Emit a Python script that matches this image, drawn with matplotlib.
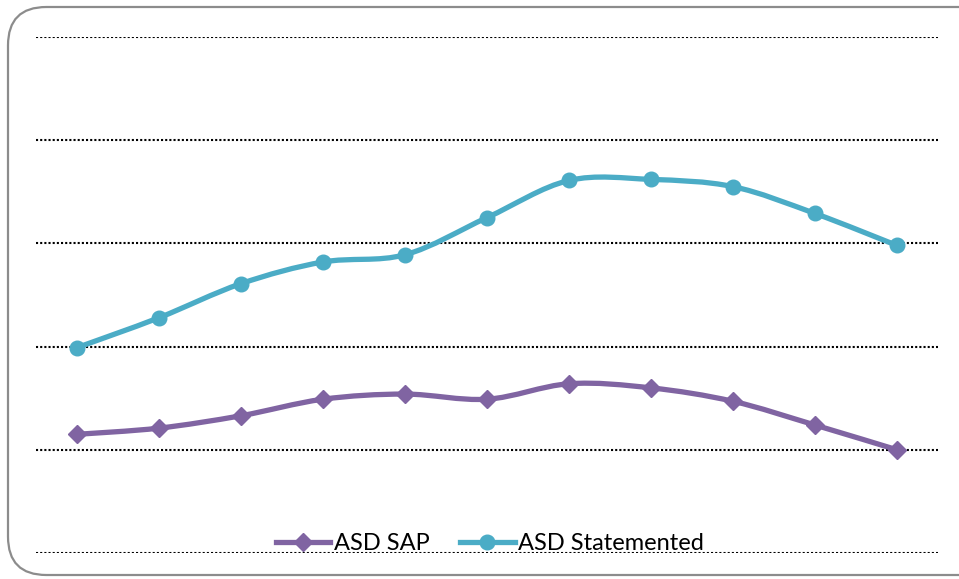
import matplotlib.pyplot as plt
import numpy as np
from matplotlib.path import Path
from matplotlib.patches import PathPatch, FancyBboxPatch
from matplotlib.lines import Line2D

# values (gridlines = 0..5, no labels shown)
periods = list(range(11))
asd_sap = [1.15, 1.21, 1.33, 1.49, 1.54, 1.49, 1.64, 1.60, 1.47, 1.24, 1.00]
asd_stated = [1.99, 2.28, 2.61, 2.82, 2.89, 3.25, 3.61, 3.62, 3.55, 3.29, 2.98]

purple = '#8064A2'
cyan = '#4BACC6'

plt.rcParams['font.family'] = ['Lato', 'DejaVu Sans']

fig = plt.figure(figsize=(9.59, 5.79), dpi=100)
fig.patch.set_facecolor('white')

# rounded outer frame (right side runs off the image)
frame = FancyBboxPatch((8 / 959, 4 / 579), 1.05, 568 / 579,
                       boxstyle='round,pad=0,rounding_size=0.04',
                       transform=fig.transFigure, facecolor='none',
                       edgecolor='#8c8c8c', linewidth=1.6, mutation_aspect=959 / 579,
                       zorder=-5)
fig.patches.append(frame)

ax = fig.add_axes([36 / 959, 26 / 579, 902 / 959, 516 / 579])
ax.set_facecolor('none')
ax.set_xlim(-0.5, 10.5)
ax.set_ylim(0, 5)
for s in ax.spines.values():
    s.set_visible(False)
ax.set_xticks([])
ax.set_yticks(range(6))
ax.tick_params(left=False, labelleft=False)
ax.grid(axis='y', color='black', linestyle=(0, (1, 1)), linewidth=1.5)
ax.set_axisbelow(True)


def smooth(ax, x, y, color):
    # catmull-rom style bezier, like office "smoothed line"
    x = np.asarray(x, float)
    y = np.asarray(y, float)
    verts = [(x[0], y[0])]
    codes = [Path.MOVETO]
    n = len(x)
    for i in range(n - 1):
        p0 = (x[max(i - 1, 0)], y[max(i - 1, 0)])
        p1 = (x[i], y[i])
        p2 = (x[i + 1], y[i + 1])
        p3 = (x[min(i + 2, n - 1)], y[min(i + 2, n - 1)])
        c1 = (p1[0] + (p2[0] - p0[0]) / 6, p1[1] + (p2[1] - p0[1]) / 6)
        c2 = (p2[0] - (p3[0] - p1[0]) / 6, p2[1] - (p3[1] - p1[1]) / 6)
        verts += [c1, c2, p2]
        codes += [Path.CURVE4] * 3
    ax.add_patch(PathPatch(Path(verts, codes), facecolor='none', edgecolor=color,
                           linewidth=3.8, capstyle='round', zorder=3))


smooth(ax, periods, asd_sap, purple)
smooth(ax, periods, asd_stated, cyan)
ax.plot(periods, asd_sap, linestyle='none', marker='D', markersize=9,
        color=purple, zorder=4)
ax.plot(periods, asd_stated, linestyle='none', marker='o', markersize=10.5,
        color=cyan, zorder=4)

handles = [Line2D([], [], color=purple, linewidth=3.8, marker='D', markersize=9),
           Line2D([], [], color=cyan, linewidth=3.8, marker='o', markersize=10.5)]
ax.legend(handles, ['ASD SAP', 'ASD Statemented'], loc='center',
          bbox_to_anchor=((490 - 36) / 902, (553 - 543.5) / 516), ncol=2,
          frameon=False, fontsize=17, handlelength=2.3, handletextpad=0.15,
          columnspacing=1.3, borderpad=0)

fig.savefig('out.png', dpi=100)
